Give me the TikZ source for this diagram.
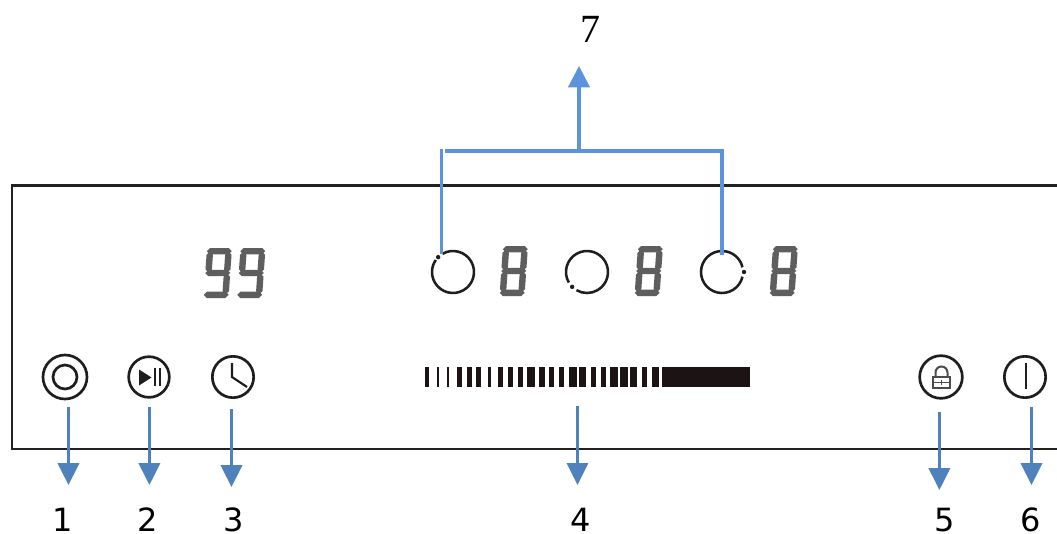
\documentclass[tikz,border=0pt]{standalone}
\usepackage{fontspec}
\setmainfont{DejaVu Sans}
\newfontfamily\serifseven{Liberation Serif}
\usetikzlibrary{arrows.meta}
\definecolor{arrowblue}{HTML}{4F81BD}
\definecolor{brackblue}{HTML}{5B94DC}
\definecolor{seggrey}{HTML}{5E5E5E}
\definecolor{panelline}{HTML}{222222}
\definecolor{iconink}{HTML}{1E1E1E}
\definecolor{barink}{HTML}{1C1414}
\newcommand{\seghor}[3]{\fill[seggrey] (#1,#3) -- (#1+3.2,#3-3.2) -- (#2-3.2,#3-3.2) -- (#2,#3) -- (#2-3.2,#3+3.2) -- (#1+3.2,#3+3.2) -- cycle;}
\newcommand{\segver}[3]{\fill[seggrey] (#1,#2) -- (#1+3.2,#2+3.2) -- (#1+3.2,#3-3.2) -- (#1,#3) -- (#1-3.2,#3-3.2) -- (#1-3.2,#2+3.2) -- cycle;}
\tikzset{
  x=0.75pt,y=-0.75pt,
  panelrule/.style={draw=panelline,line width=1.7pt},
  downarrow/.style={draw=arrowblue,line width=2.2pt,-{Triangle[length=16.5pt,width=16pt,fill=arrowblue]}},
  thinarrow/.style={downarrow,line width=1.7pt},
  bracket/.style={draw=brackblue,line width=2.4pt},
  uparrow/.style={draw=brackblue,line width=2.4pt,-{Triangle[length=16pt,width=16pt,fill=brackblue]}},
  iconring/.style={circle,draw=iconink,line width=2pt,inner sep=0pt},
  dial/.style={draw=iconink,line width=1.9pt},
  numlabel/.style={font=\fontsize{24}{24}\selectfont,text=black,inner sep=0pt},
  segeight/.pic={
    \begin{scope}[xslant=0.07]
    \seghor{0}{25}{3.2}\seghor{0}{25}{25}\seghor{0}{25}{46.8}
    \segver{3.2}{3.6}{24.6}\segver{21.8}{3.6}{24.6}\segver{3.2}{25.4}{46.4}\segver{21.8}{25.4}{46.4}
    \end{scope}},
  segnine/.pic={
    \begin{scope}[xslant=0.07]
    \seghor{0}{25}{3.2}\seghor{0}{25}{25}\seghor{0}{25}{46.8}
    \segver{3.2}{3.6}{24.6}\segver{21.8}{3.6}{24.6}\segver{21.8}{25.4}{46.4}
    \end{scope}},
}
\begin{document}
\begin{tikzpicture}
\path[use as bounding box,fill=white] (0,0) rectangle (1057,533);
% panel
\draw[panelrule] (1057,185.5) -- (12,185.5) -- (12,449) -- (1057,449);
% seven-segment displays
\pic at (207,248) {segnine};
\pic at (240.5,248) {segnine};
\pic at (503,246) {segeight};
\pic at (638,246) {segeight};
\pic at (773,246) {segeight};
% dials
\coordinate (dialA) at (453,272);
\coordinate (dialB) at (587,272);
\coordinate (dialC) at (722,272);
\draw[dial] (dialA) ++(240:21) arc[start angle=240,end angle=575,radius=21];
\fill[iconink] (dialA) ++(225:21) circle[radius=2.2];
\draw[dial] (dialB) ++(150:21) arc[start angle=150,end angle=480,radius=21];
\fill[iconink] (dialB) ++(135:21) circle[radius=2.2];
\draw[dial] (dialC) ++(13:21) arc[start angle=13,end angle=347,radius=21];
\fill[iconink] (dialC) ++(0:22) circle[radius=2.2];
% level bar
\foreach \a/\b in {425/429.3,436.7/439.3,446.7/449.3,456.7/461.7,466.7/471.7,476/481.3,488.3/491,498.3/503.3,507.7/512.7,517.7/522.7,527.3/535,539.3/544.7,549.3/554.3,559/564,569/576.7,579/586,591/595.7,600.7/605.7,610.3/618,620.3/627.7,630/636.7,642.3/646.7,652/659.3,661.7/749.5}
  \fill[barink] (\a,367) rectangle (\b,387);
% icons
\node[iconring,minimum size=33pt] (iconA) at (65,377) {};
\node[iconring,minimum size=18pt] (iconAin) at (65,377) {};
\node[iconring,minimum size=30.5pt] (iconB) at (149,377) {};
\node[iconring,minimum size=31pt] (iconC) at (233,377) {};
\node[iconring,minimum size=32pt] (iconD) at (941,377) {};
\node[iconring,minimum size=31pt] (iconE) at (1025,377) {};
\fill[iconink] (139,369.5) -- (151.5,377.5) -- (139,385.5) -- cycle;
\draw[iconink,line width=1.3pt] (155,368) -- (155,386) (160,368) -- (160,386);
\draw[iconink,line width=1.6pt] (232,363) -- (232,377) -- (247,387);
\draw[iconink!80,line width=1.5pt] (933,377) rectangle (950,387.5);
\draw[iconink!80,line width=1.3pt] (933,382.5) -- (950,382.5) (941.5,380) -- (941.5,385);
\draw[iconink!80,line width=1.5pt] (935.5,377) -- (935.5,372.5) arc[start angle=180,end angle=360,radius=6] -- (947.5,377);
\draw[iconink,line width=1.5pt] (1026,363) -- (1026,389);
% labels
\node[numlabel] (numA) at (63,520) {1};
\node[numlabel] (numB) at (148,520) {2};
\node[numlabel] (numC) at (234,520) {3};
\node[numlabel] (numD) at (581,520) {4};
\node[numlabel] (numE) at (945,520) {5};
\node[numlabel] (numF) at (1031,520) {6};
\node[font=\serifseven\fontsize{30}{30}\selectfont,inner sep=0pt] (numG) at (590,29.5) {7};
% connector ends
\coordinate (startA) at (68.5,407);
\coordinate (endA) at (68.5,485);
\coordinate (startB) at (149.4,407);
\coordinate (endB) at (149.4,485);
\coordinate (startC) at (231.5,409);
\coordinate (endC) at (231.5,487);
\coordinate (startD) at (577.5,406);
\coordinate (endD) at (577.5,485);
\coordinate (startE) at (939.4,412);
\coordinate (endE) at (939.4,490);
\coordinate (startF) at (1031.5,407);
\coordinate (endF) at (1031.5,485);
\coordinate (tipG) at (579,66);
\coordinate (forkG) at (579,151);
\coordinate (brackL) at (445,151);
\coordinate (brackR) at (722,151);
\coordinate (footL) at (441.5,254);
\coordinate (headL) at (441.5,149);
\coordinate (footR) at (722,255);
% connectors
\draw[downarrow] (startA) -- (endA);
\draw[downarrow] (startB) -- (endB);
\draw[downarrow] (startC) -- (endC);
\draw[thinarrow] (startD) -- (endD);
\draw[downarrow] (startE) -- (endE);
\draw[downarrow] (startF) -- (endF);
\draw[uparrow] (forkG) -- (tipG);
\draw[bracket] (brackL) -- (brackR) -- (footR);
\draw[bracket] (headL) -- (footL);
\end{tikzpicture}
\end{document}
